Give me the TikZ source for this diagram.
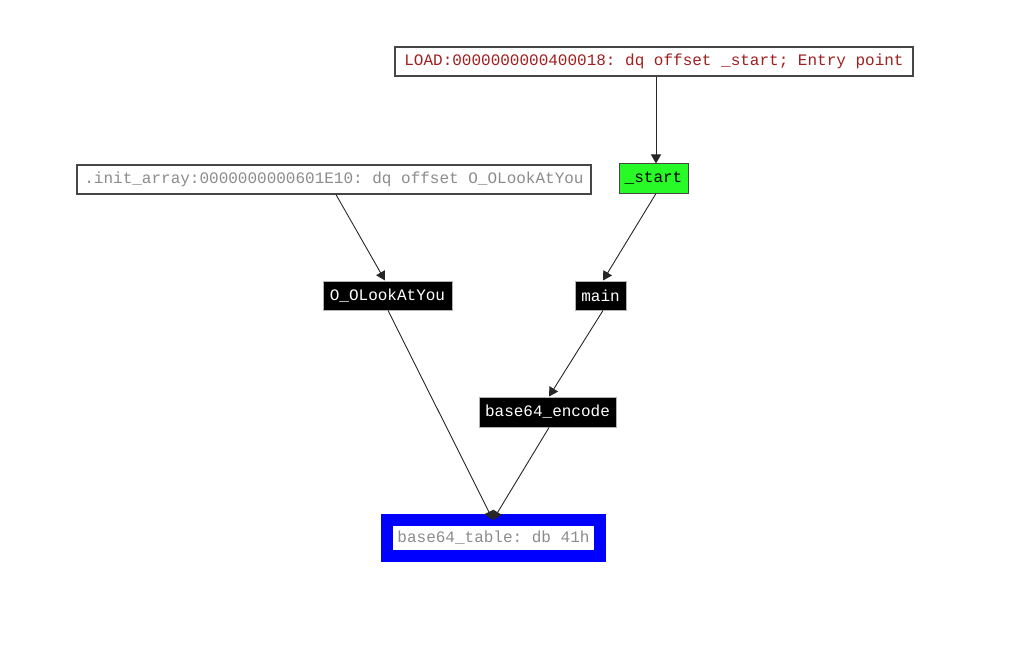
\documentclass[tikz,border=0pt]{standalone}
\usepackage{fontspec}
\setmonofont{Liberation Mono}
\usetikzlibrary{arrows.meta}
\definecolor{loadred}{RGB}{160,32,32}
\definecolor{initgray}{RGB}{140,140,140}
\definecolor{boxborder}{RGB}{70,70,70}
\definecolor{startgreen}{RGB}{40,250,40}
\begin{document}
\begin{tikzpicture}[x=1pt,y=-1pt,
  every node/.style={font=\ttfamily\fontsize{16}{16}\selectfont, inner sep=0pt, rectangle, anchor=center},
  plainbox/.style={draw=boxborder, line width=1.2pt, fill=white},
  blackbox/.style={draw=gray!60, line width=1pt, fill=black, text=white},
  greenbox/.style={draw=boxborder, line width=1pt, fill=startgreen, text=black},
  tablebox/.style={draw=blue, line width=12pt, fill=white, text=initgray},
  edge/.style={draw=black!85, line width=0.9pt, -{Triangle[width=10pt,length=9pt]}}
]
\useasboundingbox (0,0) rectangle (1024,655);
\node[plainbox, text=loadred, minimum width=518, minimum height=29] (load) at (654,61.5) {LOAD:0000000000400018: dq offset \_start; Entry point};
\node[greenbox, minimum width=69, minimum height=29] (start) at (653.5,178.5) {\_start};
\node[plainbox, text=initgray, minimum width=514, minimum height=29] (init) at (334,179.5) {.init\_array:0000000000601E10: dq offset O\_OLookAtYou};
\node[blackbox, minimum width=129, minimum height=29] (oo) at (387.5,295.5) {O\_OLookAtYou};
\node[blackbox, minimum width=51, minimum height=29] (main) at (600.5,295.5) {main};
\node[blackbox, minimum width=137, minimum height=30] (enc) at (547.5,412) {base64\_encode};
\node[tablebox, minimum width=213, minimum height=36] (tbl) at (493.5,538) {base64\_table: db 41h};

\draw[edge] ([xshift=2pt]load.south) -- ([xshift=2.5pt]start.north);
\draw[edge] ([xshift=2pt]init.south) -- ([xshift=-2.5pt]oo.north);
\draw[edge] ([xshift=2.5pt]start.south) -- ([xshift=2.5pt]main.north);
\draw[edge] ([xshift=0.5pt]oo.south) -- ([yshift=-6pt,xshift=-0.5pt]tbl.north);
\draw[edge] ([xshift=2.5pt]main.south) -- ([xshift=1.5pt]enc.north);
\draw[edge] ([xshift=1.5pt]enc.south) -- ([yshift=-6pt,xshift=-0.5pt]tbl.north);
\end{tikzpicture}
\end{document}
